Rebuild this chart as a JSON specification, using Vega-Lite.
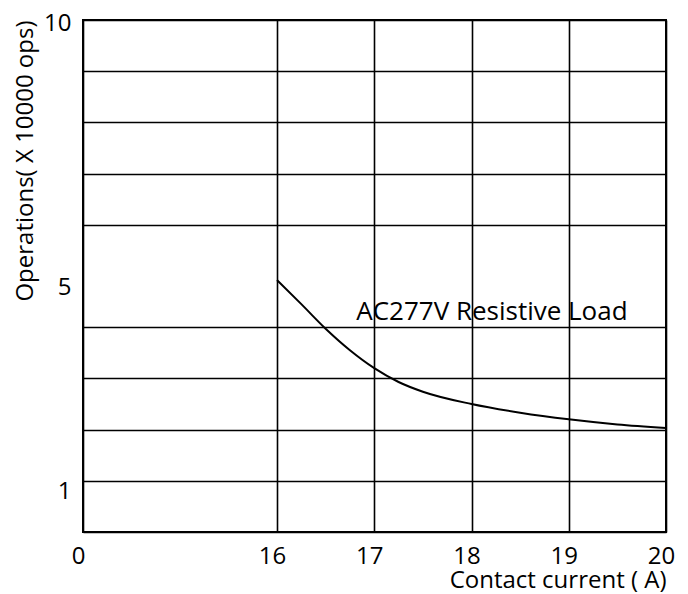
{
  "$schema": "https://vega.github.io/schema/vega-lite/v6.json",
  "width": 583,
  "height": 512,
  "autosize": "none",
  "padding": {"left": 83, "top": 20, "right": 22, "bottom": 62},
  "background": "white",
  "config": {
    "view": {"stroke": "black", "strokeWidth": 2},
    "font": "Open Sans"
  },
  "layer": [
    {
      "data": {"values": [
        {"current": 16, "ops": 4.92},
        {"current": 16.25, "ops": 4.45},
        {"current": 16.5, "ops": 3.97},
        {"current": 16.75, "ops": 3.55},
        {"current": 17, "ops": 3.2},
        {"current": 17.25, "ops": 2.93},
        {"current": 17.5, "ops": 2.74},
        {"current": 18, "ops": 2.5},
        {"current": 18.5, "ops": 2.33},
        {"current": 19, "ops": 2.2},
        {"current": 19.5, "ops": 2.1},
        {"current": 20, "ops": 2.03}
      ]},
      "mark": {"type": "line", "color": "black", "strokeWidth": 2, "interpolate": "monotone", "clip": true},
      "encoding": {
        "x": {
          "field": "current", "type": "quantitative",
          "scale": {"domain": [0, 16, 20], "range": [0, 194, 583], "nice": false, "zero": false},
          "axis": {
            "values": [0, 16, 17, 18, 19, 20],
            "title": "Contact current ( A)",
            "titleAnchor": "end",
            "titleFontSize": 24,
            "titleFontWeight": "normal",
            "titleColor": "black",
            "titlePadding": 0,
            "labelFontSize": 24,
            "labelColor": "black",
            "labelPadding": 12,
            "labelOffset": -5,
            "labelFlush": false,
            "ticks": false,
            "domain": false,
            "grid": true,
            "gridColor": "black",
            "gridOpacity": 1,
            "gridWidth": 1.6
          }
        },
        "y": {
          "field": "ops", "type": "quantitative",
          "scale": {"domain": [0, 10], "nice": false},
          "axis": {
            "values": [0, 1, 2, 3, 4, 5, 6, 7, 8, 9, 10],
            "labelExpr": "(datum.value == 1 || datum.value == 5 || datum.value == 10) ? datum.label : ''",
            "title": "Operations( X 10000 ops)",
            "titleAnchor": "end",
            "titleFontSize": 24,
            "titleFontWeight": "normal",
            "titleColor": "black",
            "titleX": -58,
            "titleBaseline": "middle",
            "labelFontSize": 24,
            "labelColor": "black",
            "labelPadding": 12,
            "labelOffset": {"condition": {"test": "datum.value == 10", "value": 3}, "value": 11},
            "ticks": false,
            "domain": false,
            "grid": true,
            "gridColor": {"condition": {"test": "datum.value == 5", "value": "transparent"}, "value": "black"},
            "gridOpacity": 1,
            "gridWidth": 1.6
          }
        }
      }
    },
    {
      "data": {"values": [{"current": 18.21, "ops": 4.3, "label": "AC277V Resistive Load"}]},
      "mark": {"type": "text", "fontSize": 26, "color": "black", "align": "center", "baseline": "middle", "font": "Open Sans"},
      "encoding": {
        "x": {"field": "current", "type": "quantitative"},
        "y": {"field": "ops", "type": "quantitative"},
        "text": {"field": "label"}
      }
    }
  ]
}
